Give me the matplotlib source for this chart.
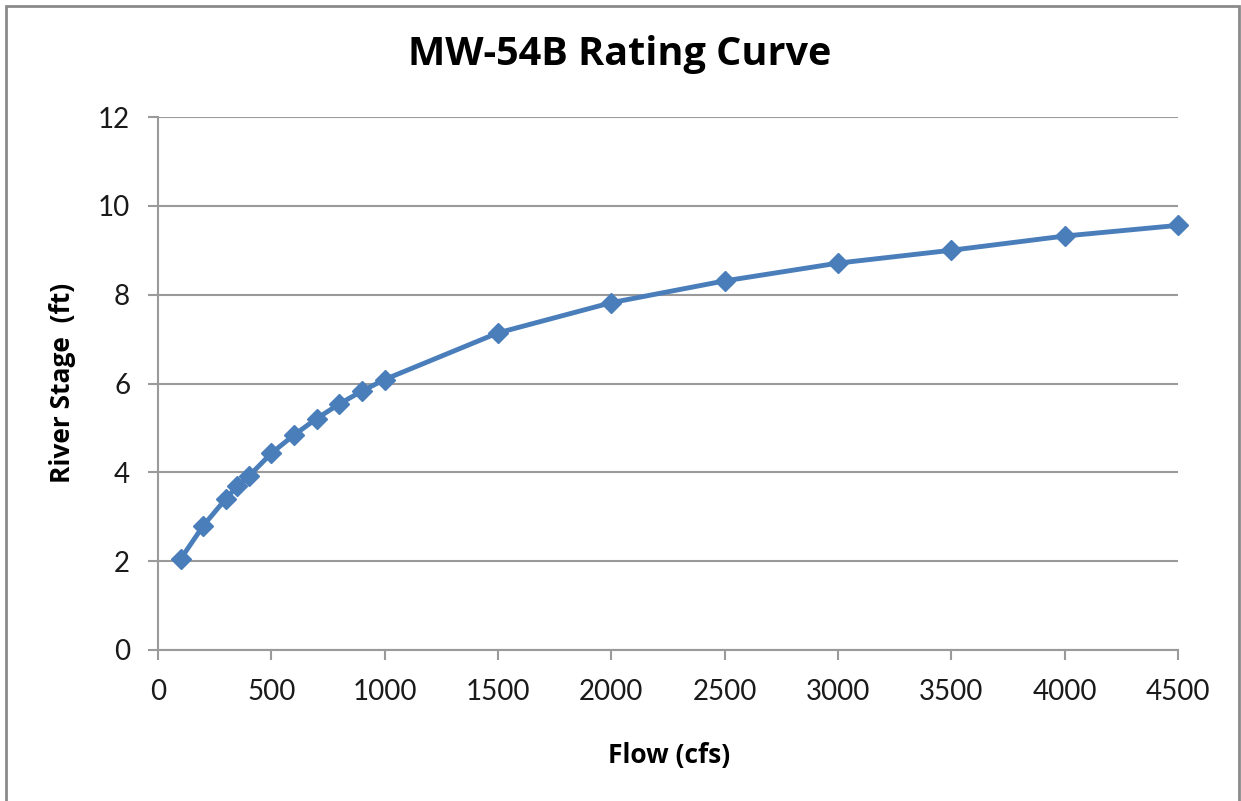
import matplotlib
matplotlib.use("Agg")
import matplotlib.pyplot as plt
from matplotlib.patches import Rectangle

flow_cfs = [100, 200, 300, 350, 400, 500, 600, 700, 800, 900, 1000,
            1500, 2000, 2500, 3000, 3500, 4000, 4500]
stage_ft = [2.05, 2.80, 3.41, 3.69, 3.91, 4.43, 4.84, 5.21, 5.54, 5.83, 6.09,
            7.14, 7.82, 8.31, 8.71, 9.00, 9.32, 9.56]
x_ticks = [0, 500, 1000, 1500, 2000, 2500, 3000, 3500, 4000, 4500]
y_ticks = [0, 2, 4, 6, 8, 10, 12]

plt.rcParams['font.family'] = ['Lato', 'DejaVu Sans']
bold_family = ['Open Sans', 'DejaVu Sans']

W, H = 1241, 801
fig = plt.figure(figsize=(W / 100, H / 100), dpi=100)
ax = fig.add_axes([158 / W, 1 - 650 / H, (1178 - 158) / W, (650 - 117) / H])

grid_c = '#9a9a9a'
blue = '#4a7ebb'

ax.plot(flow_cfs, stage_ft, color=blue, lw=3.5, marker='D', ms=10.5,
        mfc=blue, mec=blue, mew=1, zorder=3, clip_on=False)

ax.set_xlim(0, 4500)
ax.set_ylim(0, 12)
ax.set_xticks(x_ticks)
ax.set_yticks(y_ticks)
ax.yaxis.grid(True, color=grid_c, lw=1.5)
ax.set_axisbelow(True)

for s in ['top', 'right']:
    ax.spines[s].set_visible(False)
for s in ['left', 'bottom']:
    ax.spines[s].set_color(grid_c)
    ax.spines[s].set_linewidth(1.5)

ax.tick_params(axis='both', direction='out', length=7, width=1.5,
               color=grid_c, labelsize=20, labelcolor='#1a1a1a')
ax.tick_params(axis='x', pad=14)
ax.tick_params(axis='y', pad=13)

fig.text(620 / W, 1 - 55 / H, 'MW-54B Rating Curve', ha='center', va='center',
         fontsize=28.5, fontweight='bold', color='black', family=bold_family)
fig.text(669 / W, 1 - 756 / H, 'Flow (cfs)', ha='center', va='center',
         fontsize=19, fontweight='bold', color='black', family=bold_family)
fig.text(62 / W, 1 - 383 / H, 'River Stage  (ft)', ha='center', va='center',
         rotation=90, fontsize=19, fontweight='bold', color='black',
         family=bold_family)

fig.patches.append(Rectangle((6 / W, -0.01), (1239 - 6) / W, 1 - 6 / H + 0.01,
                             transform=fig.transFigure, fill=False,
                             edgecolor='#8a8a8a', lw=2))

fig.savefig('out.png', dpi=100)
